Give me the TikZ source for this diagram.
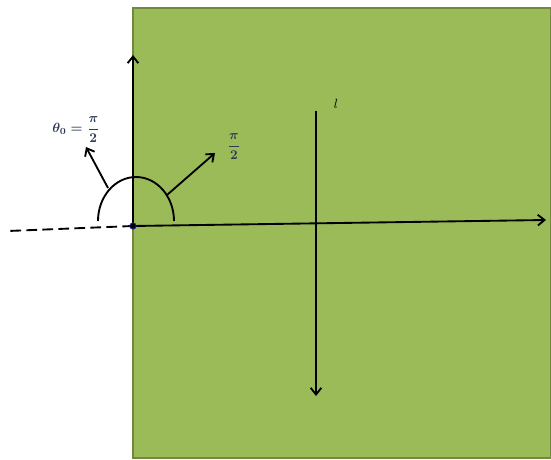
\documentclass[tikz,border=0pt]{standalone}
\usepackage{amsmath}
\usetikzlibrary{arrows.meta}
\definecolor{plane}{HTML}{9BBB59}
\definecolor{planeedge}{HTML}{71893F}
\definecolor{labelink}{HTML}{2F3A55}
\begin{document}
\begin{tikzpicture}[x=.75pt,y=-.75pt,line width=1.4pt,
  axis/.style={-{Straight Barb[length=5pt,width=8pt]}},
  lbl/.style={inner sep=1pt,text=labelink,font=\fontsize{10}{11}\selectfont}]
\path[use as bounding box] (0,0) rectangle (551,460);
\draw[fill=plane,draw=planeedge,line width=1.5pt] (133,8) rectangle (551,458);
% axes and the line l
\coordinate (O) at (133,226);
\coordinate (xend) at (546,220);
\coordinate (yend) at (133,55);
\coordinate (far) at (8,231);
\coordinate (ltop) at (316,111);
\coordinate (lbot) at (316,396);
\draw[axis] (O) -- (xend);
\draw[axis] (O) -- (yend);
\draw[dashed,dash pattern=on 8pt off 4pt] (O) -- (far);
\draw[axis] (ltop) -- (lbot);
\node[lbl,text=black] (lname) at (336,104) {$l$};
% angle arcs
\draw (98,221) arc[start angle=180,end angle=360,x radius=38,y radius=44];
\coordinate (a1) at (108,188);
\coordinate (a2) at (86,147);
\coordinate (b1) at (167,195);
\coordinate (b2) at (215,153);
\draw[axis] (a1) -- (a2);
\draw[axis] (b1) -- (b2);
\fill[black] (O) circle (3);
\draw[labelink!60!blue,line width=.6pt] (O) circle (3.2);
\node[lbl] (theta) at (76,130) {$\boldsymbol{\theta_0=\dfrac{\pi}{2}}$};
\node[lbl] (half) at (234,147) {$\boldsymbol{\dfrac{\pi}{2}}$};
\end{tikzpicture}
\end{document}
